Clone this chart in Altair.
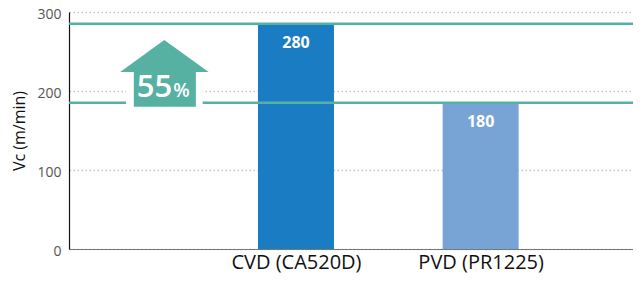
import altair as alt
import pandas as pd

# Data
categories = ["CVD (CA520D)", "PVD (PR1225)"]
cat_pos = [1, 2]
bar_values = [285, 185]          # drawn heights
bar_labels = ["280", "180"]      # printed values
bar_colors = ["#1a7dc4", "#78a3d5"]

increase_label = "55"
increase_unit = "%"

# Arrow shape (data units)
arrow_head_x = [0.048, 0.287, 0.527]
arrow_head_y = [224, 264.6, 224]
arrow_shaft_x = [0.122, 0.458]
arrow_shaft_y = [180, 224]
gap_x = [0.080, 0.495]
gap_y = [177, 212]

TEAL = "#57b1a3"
FONT = "Open Sans"

bars_df = pd.DataFrame({"pos": cat_pos, "value": bar_values,
                        "label": bar_labels, "cat": categories, "color": bar_colors})
levels_df = pd.DataFrame({"level": bar_values})
head_df = pd.DataFrame({"x": arrow_head_x, "y": arrow_head_y, "base": [arrow_head_y[0]] * 3})
shaft_df = pd.DataFrame({"x": [arrow_shaft_x[0]], "x2": [arrow_shaft_x[1]],
                         "y": [arrow_shaft_y[0]], "y2": [arrow_shaft_y[1]]})
gap_df = pd.DataFrame({"x": [gap_x[0]], "x2": [gap_x[1]], "y": [gap_y[0]], "y2": [gap_y[1]]})
txt_df = pd.DataFrame({"x": [0.234], "y": [192.4], "t": [increase_label]})
pct_df = pd.DataFrame({"x": [0.335], "y": [192.4], "t": [increase_unit]})

W = 564
xscale = alt.Scale(domain=[-0.202, -0.202 + W / 188], nice=False, zero=False)
yscale = alt.Scale(domain=[0, 300], nice=False)

label_expr = "datum.value == 1 ? '%s' : '%s'" % (categories[0], categories[1])

bars = alt.Chart(bars_df).mark_bar(size=76).encode(
    x=alt.X("pos:Q", scale=xscale,
            axis=alt.Axis(values=cat_pos, labelExpr=label_expr, title=None, ticks=False,
                          grid=False, domainColor="#777777", domainWidth=1.2,
                          labelFontSize=20, labelColor="#111111", labelFont=FONT,
                          labelPadding=3)),
    y=alt.Y("value:Q", scale=yscale,
            axis=alt.Axis(values=[0, 100, 200, 300], title="Vc (m/min)", ticks=False,
                          grid=True, gridColor="#c4c4c4", gridDash=[1.5, 2.5], gridWidth=1.5,
                          domainColor="#111111", domainWidth=1.2,
                          labelFontSize=14, labelColor="#555555", labelFont=FONT,
                          labelPadding=8, labelOffset=2, titleFont=FONT, titleFontSize=16,
                          titleFontWeight="normal", titleColor="#111111", titlePadding=9)),
    color=alt.Color("color:N", scale=None),
)

bar_text = alt.Chart(bars_df).mark_text(
    color="white", fontWeight="bold", fontSize=16, font=FONT, baseline="middle", dy=19
).encode(x=alt.X("pos:Q", scale=xscale), y=alt.Y("value:Q", scale=yscale), text="label:N")

lines = alt.Chart(levels_df).mark_rule(color=TEAL, strokeWidth=2.5).encode(
    y=alt.Y("level:Q", scale=yscale))

gap = alt.Chart(gap_df).mark_rect(color="white").encode(
    x=alt.X("x:Q", scale=xscale), x2="x2", y=alt.Y("y:Q", scale=yscale), y2="y2")

head = alt.Chart(head_df).mark_area(color=TEAL, opacity=1).encode(
    x=alt.X("x:Q", scale=xscale), y=alt.Y("y:Q", scale=yscale), y2="base")

shaft = alt.Chart(shaft_df).mark_rect(color=TEAL).encode(
    x=alt.X("x:Q", scale=xscale), x2="x2", y=alt.Y("y:Q", scale=yscale), y2="y2")

txt = alt.Chart(txt_df).mark_text(
    color="white", fontSize=31, fontWeight=600, font=FONT, align="center", baseline="alphabetic"
).encode(x=alt.X("x:Q", scale=xscale), y=alt.Y("y:Q", scale=yscale), text="t:N")

pct = alt.Chart(pct_df).mark_text(
    color="white", fontSize=19, fontWeight=600, font=FONT, align="left", baseline="alphabetic"
).encode(x=alt.X("x:Q", scale=xscale), y=alt.Y("y:Q", scale=yscale), text="t:N")

chart = alt.layer(bars, lines, gap, head, shaft, txt, pct, bar_text).properties(
    width=W, height=237,
    autosize=alt.AutoSizeParams(type="none"),
    padding={"left": 61, "top": 4, "right": 0, "bottom": 24},
).configure_view(stroke=None)

chart.save("out.html", embed_options={"renderer": "svg", "actions": False})
